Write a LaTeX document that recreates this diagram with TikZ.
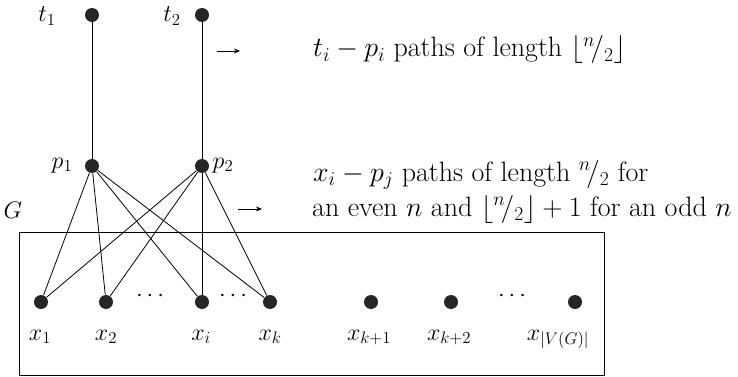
\RequirePackage{fix-cm}
\documentclass[tikz,border=0pt]{standalone}
\usetikzlibrary{arrows.meta}
\begin{document}
\tikzset{every picture/.style={line width=0.8pt}}

\begin{tikzpicture}[x=1pt,y=1pt,yscale=-1,xscale=1,
  vertex/.style={circle,fill=black!85,inner sep=0pt,minimum size=14pt},
  lbl/.style={inner sep=0.75pt,anchor=base,font=\fontsize{24}{29}\selectfont},
  note/.style={inner sep=0.75pt,anchor=base west,font=\fontsize{28}{34}\selectfont},
  pointer/.style={-{Stealth[length=6pt,width=5pt]},line width=0.6pt}]
\useasboundingbox (0,0) rectangle (738,377);

%Shape: Rectangle (graph G)
\draw (19,232) rectangle (604,375);

%Vertices t and p
\node [vertex] (t1) at (92,15) {};
\node [vertex] (t2) at (202,15) {};
\node [vertex] (p1) at (92,166) {};
\node [vertex] (p2) at (202,166) {};

%Vertices of G
\node [vertex] (x1) at (41,302) {};
\node [vertex] (x2) at (106,302) {};
\node [vertex] (xi) at (202,302) {};
\node [vertex] (xk) at (270,302) {};
\node [vertex] (xk1) at (371,302) {};
\node [vertex] (xk2) at (451,302) {};
\node [vertex] (xv) at (575,302) {};

%Straight Lines
\draw (t1) -- (p1);
\draw (t2) -- (p2);
\draw (p1) -- (x1);
\draw (p1) -- (x2);
\draw (p1) -- (xi);
\draw (p1) -- (xk);
\draw (p2) -- (x1);
\draw (p2) -- (x2);
\draw (p2) -- (xi);
\draw (p2) -- (xk);

% Text Node
\node [lbl] (lt1) at (47,22) {$t_1$};
\node [lbl] (lt2) at (172,22) {$t_2$};
\node [lbl] (lp1) at (62,168) {$p_1$};
\node [lbl] (lp2) at (223,168) {$p_2$};
\node [lbl] (lG) at (13,218) {$G$};
\node [lbl] (lx1) at (40,340) {$x_1$};
\node [lbl] (lx2) at (106,340) {$x_2$};
\node [lbl] (lxi) at (201,340) {$x_i$};
\node [lbl] (lxk) at (270,340) {$x_k$};
\node [lbl] (lxk1) at (369,340) {$x_{k+1}$};
\node [lbl] (lxk2) at (449,340) {$x_{k+2}$};
\node [lbl] (lxv) at (558,340) {$x_{|V(G)|}$};
\node [lbl] (d1) at (150,301) {$\cdots$};
\node [lbl] (d2) at (233,301) {$\cdots$};
\node [lbl] (d3) at (512,301) {$\cdots$};

%Arrows and notes
\coordinate (a1) at (217,51);
\coordinate (b1) at (240,51);
\draw [pointer] (a1) -- (b1);
\coordinate (a2) at (238,209);
\coordinate (b2) at (262,209);
\draw [pointer] (a2) -- (b2);
\node [note] (n1) at (312,57) {$t_i - p_i$ paths of length $\lfloor {}^n\!/_2 \rfloor$};
\node [note] (n2) at (312,181) {$x_i - p_j$ paths of length ${}^n\!/_2$ for};
\node [note] (n3) at (311,216) {an even $n$ and $\lfloor {}^n\!/_2 \rfloor + 1$ for an odd $n$};

\end{tikzpicture}
\end{document}
